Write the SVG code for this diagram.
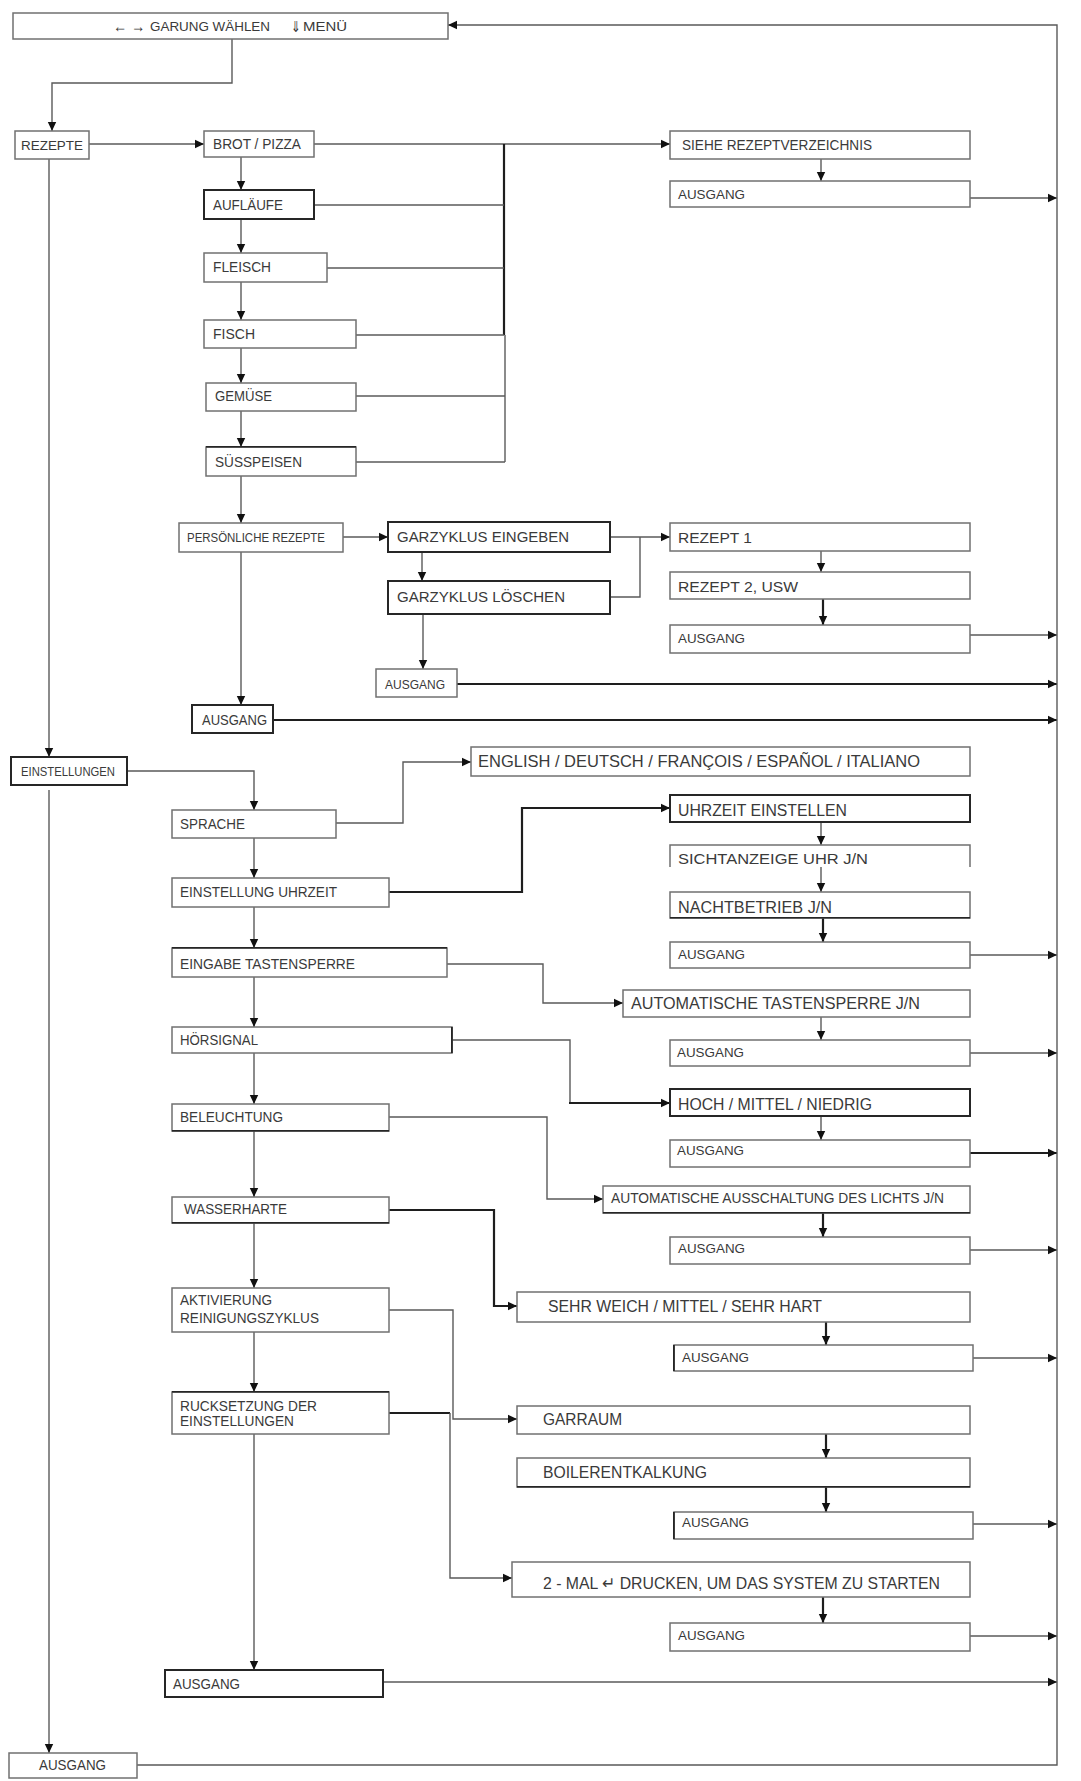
<svg xmlns="http://www.w3.org/2000/svg" width="1081" height="1781" viewBox="0 0 1081 1781">
<style>
.bg{fill:#fff}
.b{fill:#fff;stroke:#707070;stroke-width:1.5}
.bd{fill:#fff;stroke:#262626;stroke-width:2}
.t{font-family:"Liberation Sans",Arial,sans-serif;fill:#3a3a3a}
.c{fill:none;stroke:#5a5a5a;stroke-width:1.4}
.ck{fill:none;stroke:#1e1e1e;stroke-width:2.2}
</style>
<defs>
<marker id="ah" markerUnits="userSpaceOnUse" markerWidth="10" markerHeight="10" refX="9" refY="5" orient="auto">
<path d="M0,0.8 L9,5 L0,9.2 Z" fill="#111"/>
</marker>
</defs>
<rect class="bg" x="0" y="0" width="1081" height="1781"/>

<g id="connectors">
<path class="c" d="M232,39 V83 H52 V131" marker-end="url(#ah)"/>
<path class="c" d="M89,144 H204" marker-end="url(#ah)"/>
<path class="c" d="M314,144 H670" marker-end="url(#ah)"/>
<path class="ck" d="M504,144 V335"/>
<path class="c" d="M505,335 V462"/>
<path class="c" d="M314,205 H504"/>
<path class="c" d="M327,268 H504"/>
<path class="c" d="M356,335 H504"/>
<path class="c" d="M356,396 H505"/>
<path class="c" d="M356,462 H505"/>
<path class="c" d="M241,157 V190" marker-end="url(#ah)"/>
<path class="c" d="M241,219 V253" marker-end="url(#ah)"/>
<path class="c" d="M241,282 V320" marker-end="url(#ah)"/>
<path class="c" d="M241,348 V383" marker-end="url(#ah)"/>
<path class="c" d="M241,411 V447" marker-end="url(#ah)"/>
<path class="c" d="M241,476 V523" marker-end="url(#ah)"/>
<path class="c" d="M821,159 V181" marker-end="url(#ah)"/>
<path class="c" d="M970,198 H1057" marker-end="url(#ah)"/>
<path class="c" d="M49,159 V757" marker-end="url(#ah)"/>
<path class="c" d="M49,790 V1753" marker-end="url(#ah)"/>
<path class="c" d="M343,537 H388" marker-end="url(#ah)"/>
<path class="c" d="M241,552 V705" marker-end="url(#ah)"/>
<path class="c" d="M610,537 H670" marker-end="url(#ah)"/>
<path class="c" d="M610,597 H640 V537"/>
<path class="c" d="M422,552 V581" marker-end="url(#ah)"/>
<path class="c" d="M423,614 V669" marker-end="url(#ah)"/>
<path class="ck" d="M457,684 H1057" marker-end="url(#ah)"/>
<path class="ck" d="M273,720 H1057" marker-end="url(#ah)"/>
<path class="c" d="M821,551 V572" marker-end="url(#ah)"/>
<path class="ck" d="M823,599 V625" marker-end="url(#ah)"/>
<path class="c" d="M970,635 H1057" marker-end="url(#ah)"/>
<path class="c" d="M127,771 H254 V810" marker-end="url(#ah)"/>
<path class="c" d="M336,823 H403 V762 H471" marker-end="url(#ah)"/>
<path class="c" d="M254,838 V878" marker-end="url(#ah)"/>
<path class="ck" d="M389,892 H522 V808 H670" marker-end="url(#ah)"/>
<path class="c" d="M821,822 V845" marker-end="url(#ah)"/>
<path class="c" d="M821,867 V892" marker-end="url(#ah)"/>
<path class="ck" d="M823,918 V942" marker-end="url(#ah)"/>
<path class="c" d="M970,955 H1057" marker-end="url(#ah)"/>
<path class="c" d="M254,907 V948" marker-end="url(#ah)"/>
<path class="c" d="M447,964 H543 V1003 H623" marker-end="url(#ah)"/>
<path class="c" d="M821,1017 V1040" marker-end="url(#ah)"/>
<path class="c" d="M970,1053 H1057" marker-end="url(#ah)"/>
<path class="c" d="M254,977 V1027" marker-end="url(#ah)"/>
<path class="c" d="M452,1040 H570 V1103"/>
<path class="ck" d="M569,1103 H670" marker-end="url(#ah)"/>
<path class="c" d="M821,1116 V1140" marker-end="url(#ah)"/>
<path class="ck" d="M970,1153 H1057" marker-end="url(#ah)"/>
<path class="c" d="M254,1053 V1104" marker-end="url(#ah)"/>
<path class="c" d="M389,1117 H547 V1199 H603" marker-end="url(#ah)"/>
<path class="ck" d="M823,1213 V1237" marker-end="url(#ah)"/>
<path class="c" d="M970,1250 H1057" marker-end="url(#ah)"/>
<path class="c" d="M254,1131 V1197" marker-end="url(#ah)"/>
<path class="ck" d="M389,1210 H494 V1306 H517" marker-end="url(#ah)"/>
<path class="ck" d="M826,1322 V1345" marker-end="url(#ah)"/>
<path class="c" d="M973,1358 H1057" marker-end="url(#ah)"/>
<path class="c" d="M254,1223 V1288" marker-end="url(#ah)"/>
<path class="c" d="M389,1310 H453 V1419 H517" marker-end="url(#ah)"/>
<path class="ck" d="M826,1434 V1458" marker-end="url(#ah)"/>
<path class="ck" d="M826,1487 V1512" marker-end="url(#ah)"/>
<path class="c" d="M973,1524 H1057" marker-end="url(#ah)"/>
<path class="c" d="M254,1332 V1392" marker-end="url(#ah)"/>
<path class="ck" d="M389,1413 H450"/>
<path class="c" d="M450,1413 V1578 H512" marker-end="url(#ah)"/>
<path class="ck" d="M823,1597 V1623" marker-end="url(#ah)"/>
<path class="c" d="M970,1636 H1057" marker-end="url(#ah)"/>
<path class="c" d="M254,1434 V1670" marker-end="url(#ah)"/>
<path class="c" d="M383,1682 H1057" marker-end="url(#ah)"/>
<path class="c" d="M137,1765 H1057 V25 H448" marker-end="url(#ah)"/>
</g>

<g id="n-top"><rect class="b" x="13" y="13" width="435" height="26"/>
<text class="t" x="113" y="32" font-size="18" font-family="DejaVu Sans" textLength="14" lengthAdjust="spacingAndGlyphs">←</text>
<text class="t" x="131" y="32" font-size="18" font-family="DejaVu Sans" textLength="14" lengthAdjust="spacingAndGlyphs">→</text>
<text class="t" x="150" y="31" font-size="13" textLength="120" lengthAdjust="spacingAndGlyphs">GARUNG WÄHLEN</text>
<text class="t" x="291" y="32" font-size="15" font-family="DejaVu Sans" textLength="10" lengthAdjust="spacingAndGlyphs">⇓</text>
<text class="t" x="303" y="31" font-size="13" textLength="44" lengthAdjust="spacingAndGlyphs">MENÜ</text></g>

<g id="n-rezepte"><rect class="b" x="15" y="131" width="74" height="28"/>
<text class="t" x="21" y="150" font-size="13" textLength="62" lengthAdjust="spacingAndGlyphs">REZEPTE</text></g>
<g id="n-brot"><rect class="b" x="204" y="131" width="110" height="26"/>
<text class="t" x="213" y="149" font-size="14" textLength="88" lengthAdjust="spacingAndGlyphs">BROT / PIZZA</text></g>
<g id="n-auflaeufe"><rect class="bd" x="204" y="190" width="110" height="29"/>
<text class="t" x="213" y="210" font-size="14" textLength="70" lengthAdjust="spacingAndGlyphs">AUFLÄUFE</text></g>
<g id="n-fleisch"><rect class="b" x="204" y="253" width="123" height="29"/>
<text class="t" x="213" y="272" font-size="14" textLength="58" lengthAdjust="spacingAndGlyphs">FLEISCH</text></g>
<g id="n-fisch"><rect class="b" x="204" y="320" width="152" height="28"/>
<text class="t" x="213" y="339" font-size="14" textLength="42" lengthAdjust="spacingAndGlyphs">FISCH</text></g>
<g id="n-gemuese"><rect class="b" x="206" y="383" width="150" height="28"/>
<text class="t" x="215" y="401" font-size="14" textLength="57" lengthAdjust="spacingAndGlyphs">GEMÜSE</text></g>
<g id="n-suess"><rect class="b" x="206" y="447" width="150" height="29"/>
<rect x="206" y="446" width="150" height="1.6" fill="#262626"/>
<text class="t" x="215" y="467" font-size="14" textLength="87" lengthAdjust="spacingAndGlyphs">SÜSSPEISEN</text></g>
<g id="n-pers"><rect class="b" x="179" y="523" width="164" height="29"/>
<text class="t" x="187" y="541.5" font-size="12" textLength="138" lengthAdjust="spacingAndGlyphs">PERSÖNLICHE REZEPTE</text></g>
<g id="n-eingeben"><rect class="bd" x="388" y="522" width="222" height="30"/>
<text class="t" x="397" y="542" font-size="14" textLength="172" lengthAdjust="spacingAndGlyphs">GARZYKLUS EINGEBEN</text></g>
<g id="n-loeschen"><rect class="bd" x="388" y="581" width="222" height="33"/>
<text class="t" x="397" y="602" font-size="14" textLength="168" lengthAdjust="spacingAndGlyphs">GARZYKLUS LÖSCHEN</text></g>
<g id="n-aus-gar"><rect class="b" x="376" y="669" width="81" height="28"/>
<text class="t" x="385" y="688.5" font-size="13" textLength="60" lengthAdjust="spacingAndGlyphs">AUSGANG</text></g>
<g id="n-aus-pers"><rect class="bd" x="192" y="705" width="81" height="28"/>
<text class="t" x="202" y="724.5" font-size="14" textLength="65" lengthAdjust="spacingAndGlyphs">AUSGANG</text></g>

<g id="n-siehe"><rect class="b" x="670" y="131" width="300" height="28"/>
<text class="t" x="682" y="149.5" font-size="15" textLength="190" lengthAdjust="spacingAndGlyphs">SIEHE REZEPTVERZEICHNIS</text></g>
<g id="n-aus1"><rect class="b" x="670" y="181" width="300" height="26"/>
<text class="t" x="678" y="198.5" font-size="13" textLength="67" lengthAdjust="spacingAndGlyphs">AUSGANG</text></g>
<g id="n-rez1"><rect class="b" x="670" y="523" width="300" height="28"/>
<text class="t" x="678" y="542.5" font-size="15" textLength="74" lengthAdjust="spacingAndGlyphs">REZEPT 1</text></g>
<g id="n-rez2"><rect class="b" x="670" y="572" width="300" height="27"/>
<text class="t" x="678" y="591.5" font-size="15" textLength="120" lengthAdjust="spacingAndGlyphs">REZEPT 2, USW</text></g>
<g id="n-aus2"><rect class="b" x="670" y="625" width="300" height="28"/>
<text class="t" x="678" y="642.5" font-size="13" textLength="67" lengthAdjust="spacingAndGlyphs">AUSGANG</text></g>

<g id="n-einst"><rect class="bd" x="11" y="757" width="116" height="28"/>
<text class="t" x="21" y="775.5" font-size="12" textLength="94" lengthAdjust="spacingAndGlyphs">EINSTELLUNGEN</text></g>
<g id="n-sprache"><rect class="b" x="172" y="810" width="164" height="28"/>
<text class="t" x="180" y="829" font-size="14" textLength="65" lengthAdjust="spacingAndGlyphs">SPRACHE</text></g>
<g id="n-english"><rect class="b" x="471" y="747" width="499" height="29"/>
<text class="t" x="478" y="767" font-size="17" textLength="442" lengthAdjust="spacingAndGlyphs">ENGLISH / DEUTSCH / FRANÇOIS / ESPAÑOL / ITALIANO</text></g>
<g id="n-uhrzeit-einst"><rect class="bd" x="670" y="795" width="300" height="27"/>
<text class="t" x="678" y="816" font-size="16" textLength="169" lengthAdjust="spacingAndGlyphs">UHRZEIT EINSTELLEN</text></g>
<g id="n-sicht"><path class="b" d="M670,867 V845 H970 V867" fill="none"/>
<text class="t" x="678" y="863.5" font-size="15" textLength="190" lengthAdjust="spacingAndGlyphs">SICHTANZEIGE  UHR  J/N</text></g>
<g id="n-nacht"><rect class="b" x="670" y="892" width="300" height="26"/>
<rect x="670" y="917" width="300" height="1.5" fill="#262626"/>
<text class="t" x="678" y="913" font-size="16" textLength="154" lengthAdjust="spacingAndGlyphs">NACHTBETRIEB  J/N</text></g>
<g id="n-aus3"><rect class="b" x="670" y="942" width="300" height="26"/>
<text class="t" x="678" y="959" font-size="13" textLength="67" lengthAdjust="spacingAndGlyphs">AUSGANG</text></g>
<g id="n-einst-uhr"><rect class="b" x="172" y="878" width="217" height="29"/>
<text class="t" x="180" y="897" font-size="14" textLength="157" lengthAdjust="spacingAndGlyphs">EINSTELLUNG UHRZEIT</text></g>
<g id="n-eingabe"><rect class="b" x="172" y="948" width="275" height="29"/>
<rect x="172" y="947" width="275" height="1.6" fill="#262626"/>
<text class="t" x="180" y="968.5" font-size="14" textLength="175" lengthAdjust="spacingAndGlyphs">EINGABE TASTENSPERRE</text></g>
<g id="n-hoer"><rect class="b" x="172" y="1027" width="280" height="26"/>
<rect x="451" y="1027" width="1.8" height="26" fill="#262626"/>
<text class="t" x="180" y="1045" font-size="14" textLength="78" lengthAdjust="spacingAndGlyphs">HÖRSIGNAL</text></g>
<g id="n-bel"><rect class="b" x="172" y="1104" width="217" height="27"/>
<rect x="172" y="1130" width="217" height="1.6" fill="#262626"/>
<text class="t" x="180" y="1122" font-size="14" textLength="103" lengthAdjust="spacingAndGlyphs">BELEUCHTUNG</text></g>
<g id="n-autotast"><rect class="b" x="623" y="990" width="347" height="27"/>
<text class="t" x="631" y="1009" font-size="17" textLength="289" lengthAdjust="spacingAndGlyphs">AUTOMATISCHE TASTENSPERRE  J/N</text></g>
<g id="n-aus4"><rect class="b" x="670" y="1040" width="300" height="26"/>
<text class="t" x="677" y="1057" font-size="13" textLength="67" lengthAdjust="spacingAndGlyphs">AUSGANG</text></g>
<g id="n-hoch"><rect class="bd" x="670" y="1089" width="300" height="27"/>
<text class="t" x="678" y="1110" font-size="16" textLength="194" lengthAdjust="spacingAndGlyphs">HOCH / MITTEL / NIEDRIG</text></g>
<g id="n-aus5"><rect class="b" x="670" y="1140" width="300" height="27"/>
<text class="t" x="677" y="1155" font-size="13" textLength="67" lengthAdjust="spacingAndGlyphs">AUSGANG</text></g>
<g id="n-autoaus"><rect class="b" x="603" y="1186" width="367" height="27"/>
<rect x="603" y="1212" width="367" height="1.5" fill="#262626"/>
<text class="t" x="611" y="1203" font-size="14" textLength="333" lengthAdjust="spacingAndGlyphs">AUTOMATISCHE AUSSCHALTUNG DES LICHTS J/N</text></g>
<g id="n-aus6"><rect class="b" x="670" y="1237" width="300" height="27"/>
<text class="t" x="678" y="1253" font-size="13" textLength="67" lengthAdjust="spacingAndGlyphs">AUSGANG</text></g>
<g id="n-wasser"><rect class="b" x="172" y="1197" width="217" height="26"/>
<rect x="172" y="1222" width="217" height="1.6" fill="#262626"/>
<text class="t" x="184" y="1214" font-size="14" textLength="103" lengthAdjust="spacingAndGlyphs">WASSERHARTE</text></g>
<g id="n-aktiv"><rect class="b" x="172" y="1288" width="217" height="44"/>
<text class="t" x="180" y="1305" font-size="14" textLength="92" lengthAdjust="spacingAndGlyphs">AKTIVIERUNG</text>
<text class="t" x="180" y="1323" font-size="14" textLength="139" lengthAdjust="spacingAndGlyphs">REINIGUNGSZYKLUS</text></g>
<g id="n-sehr"><rect class="b" x="517" y="1292" width="453" height="30"/>
<text class="t" x="548" y="1312" font-size="16" textLength="274" lengthAdjust="spacingAndGlyphs">SEHR WEICH / MITTEL / SEHR HART</text></g>
<g id="n-aus7"><rect class="b" x="674" y="1345" width="299" height="26"/>
<rect x="673" y="1345" width="1.8" height="26" fill="#262626"/>
<text class="t" x="682" y="1362" font-size="13" textLength="67" lengthAdjust="spacingAndGlyphs">AUSGANG</text></g>
<g id="n-rueck"><rect class="b" x="172" y="1392" width="217" height="42"/>
<rect x="172" y="1391" width="217" height="1.6" fill="#262626"/>
<text class="t" x="180" y="1411" font-size="14" textLength="137" lengthAdjust="spacingAndGlyphs">RUCKSETZUNG DER</text>
<text class="t" x="180" y="1426" font-size="14" textLength="114" lengthAdjust="spacingAndGlyphs">EINSTELLUNGEN</text></g>
<g id="n-garraum"><rect class="b" x="517" y="1406" width="453" height="28"/>
<text class="t" x="543" y="1425" font-size="16" textLength="79" lengthAdjust="spacingAndGlyphs">GARRAUM</text></g>
<g id="n-boiler"><rect class="b" x="517" y="1458" width="453" height="29"/>
<rect x="517" y="1486" width="453" height="1.6" fill="#262626"/>
<text class="t" x="543" y="1478" font-size="16" textLength="164" lengthAdjust="spacingAndGlyphs">BOILERENTKALKUNG</text></g>
<g id="n-aus8"><rect class="b" x="674" y="1512" width="299" height="27"/>
<rect x="673" y="1512" width="1.8" height="27" fill="#262626"/>
<text class="t" x="682" y="1527" font-size="13" textLength="67" lengthAdjust="spacingAndGlyphs">AUSGANG</text></g>
<g id="n-zwei"><rect class="b" x="512" y="1562" width="458" height="35"/>
<text class="t" x="543" y="1588.5" font-size="17" textLength="397" lengthAdjust="spacingAndGlyphs">2 - MAL ↵  DRUCKEN, UM DAS SYSTEM ZU STARTEN</text></g>
<g id="n-aus9"><rect class="b" x="670" y="1623" width="300" height="28"/>
<text class="t" x="678" y="1640" font-size="13" textLength="67" lengthAdjust="spacingAndGlyphs">AUSGANG</text></g>
<g id="n-aus-einst"><rect class="bd" x="165" y="1670" width="218" height="27"/>
<text class="t" x="173" y="1688.5" font-size="15" textLength="67" lengthAdjust="spacingAndGlyphs">AUSGANG</text></g>
<g id="n-aus-bottom"><rect class="b" x="9" y="1753" width="128" height="25"/>
<text class="t" x="39" y="1770" font-size="14" textLength="67" lengthAdjust="spacingAndGlyphs">AUSGANG</text></g>
</svg>
